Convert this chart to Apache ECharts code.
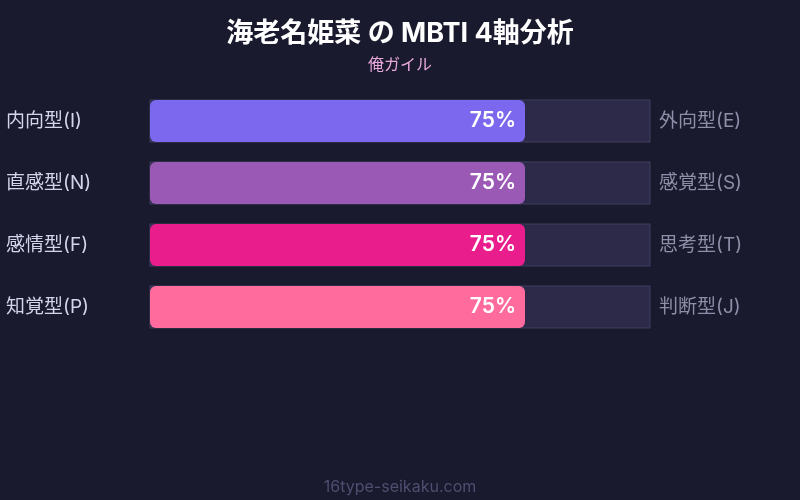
<!DOCTYPE html>
<html><head><meta charset="utf-8">
<script src="https://cdn.jsdelivr.net/npm/echarts@6/dist/echarts.min.js"></script>
<style>html,body{margin:0;padding:0;background:#1a1a2e;}#c{width:800px;height:500px;}</style>
</head><body><div id="c"></div>
<script>
const leftLabels = ['内向型(I)', '直感型(N)', '感情型(F)', '知覚型(P)'];
const rightLabels = ['外向型(E)', '感覚型(S)', '思考型(T)', '判断型(J)'];
const values = [75, 75, 75, 75];
const colors = ['#7b68ee', '#9b59b6', '#e91e8c', '#ff6b9d'];
const font = 'Inter, "Noto Sans CJK JP", sans-serif';

const chart = echarts.init(document.getElementById('c'));
chart.setOption({
  backgroundColor: '#1a1a2e',
  animation: false,
  title: [
    { text: '海老名姫菜 の MBTI 4軸分析', left: 'center', top: 15,
      textStyle: { color: '#ffffff', fontSize: 27, fontWeight: 'bold', fontFamily: font } },
    { text: '俺ガイル', left: 'center', top: 52,
      textStyle: { color: '#e8a8dc', fontSize: 16, fontWeight: 'normal', fontFamily: font } },
    { text: '16type-seikaku.com', left: 'center', top: 474,
      textStyle: { color: '#4e4e70', fontSize: 16, fontWeight: 'normal', fontFamily: font } }
  ],
  grid: { left: 150, right: 150, top: 90, height: 248 },
  xAxis: { type: 'value', min: 0, max: 100, show: false },
  yAxis: [
    { type: 'category', data: leftLabels, inverse: true, position: 'left',
      axisLine: { show: false }, axisTick: { show: false },
      axisLabel: { align: 'left', margin: 144, color: '#d4d4ec', fontSize: 19, fontFamily: font, padding: [0, 0, 3, 0] } },
    { type: 'category', data: rightLabels, inverse: true, position: 'right',
      axisLine: { show: false }, axisTick: { show: false },
      axisLabel: { align: 'left', margin: 9, color: '#8e8ea8', fontSize: 19, fontFamily: font, padding: [0, 0, 3, 0] } }
  ],
  series: [{
    type: 'bar',
    yAxisIndex: 0,
    barWidth: 42,
    showBackground: true,
    backgroundStyle: { color: '#2c2a48', borderColor: '#403e60', borderWidth: 1 },
    data: values.map((v, i) => ({ value: v, itemStyle: { color: colors[i] } })),
    itemStyle: { borderRadius: 6 },
    label: { show: true, position: 'insideRight', distance: 9, formatter: '{c}%',
      color: '#ffffff', fontSize: 21, fontWeight: 600, fontFamily: font }
  }]
});
</script></body></html>
